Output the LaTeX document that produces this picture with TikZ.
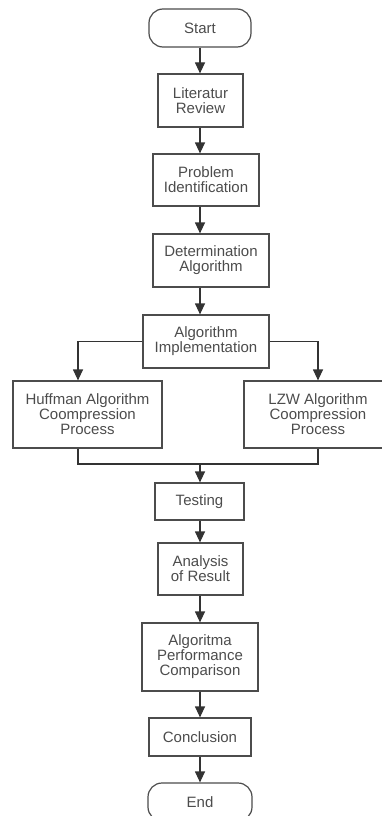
\documentclass[tikz,border=0pt]{standalone}
\usepackage{fontspec}
\setmainfont{Liberation Sans}
\usetikzlibrary{arrows.meta}

\begin{document}
\begin{tikzpicture}[x=1pt,y=-1pt,
  box/.style={draw=black!70, line width=1.2pt, text=black!70, align=center, inner sep=0pt, font=\fontsize{15}{15}\selectfont},
  term/.style={box, rounded corners=14pt},
  line/.style={draw=black!80, line width=1.2pt},
  >={Triangle[length=11pt,width=10pt]}]

\useasboundingbox (0,0) rectangle (382,816);

\node[term, minimum width=102pt, minimum height=38pt] (start) at (200,28) {Start};
\node[box, minimum width=85pt, minimum height=53pt] (lit) at (200.5,100.5) {Literatur\\Review};
\node[box, minimum width=106pt, minimum height=52pt] (prob) at (206,180) {Problem\\Identification};
\node[box, minimum width=116pt, minimum height=53pt] (det) at (211,260.5) {Determination\\Algorithm};
\node[box, minimum width=126pt, minimum height=53pt] (impl) at (206,341.5) {Algorithm\\Implementation};

\node[box, minimum width=149pt, minimum height=67pt] (huff) at (87.5,414.5) {Huffman Algorithm\\Coompression\\Process};
\node[box, minimum width=148pt, minimum height=67pt] (lzw) at (318,414.5) {LZW Algorithm\\Coompression\\Process};

\node[box, minimum width=89pt, minimum height=37pt] (test) at (199.5,501.5) {Testing};
\node[box, minimum width=85pt, minimum height=52pt] (ana) at (200.5,569) {Analysis\\of Result};
\node[box, minimum width=116pt, minimum height=68pt] (comp) at (200,657) {Algoritma\\Performance\\Comparison};
\node[box, minimum width=102pt, minimum height=38pt] (conc) at (200,737) {Conclusion};
\node[term, minimum width=104pt, minimum height=38pt] (end) at (200,802) {End};

% arrow columns
\coordinate (mid) at (200,0);
\coordinate (hx) at (78,0);
\coordinate (lx) at (318,0);
\coordinate (mrg) at (200,464);

\draw[line,->] (mid |- start.south) -- (mid |- lit.north);
\draw[line,->] (mid |- lit.south) -- (mid |- prob.north);
\draw[line,->] (mid |- prob.south) -- (mid |- det.north);
\draw[line,->] (mid |- det.south) -- (mid |- impl.north);

\draw[line,->] (impl.west) -| (hx |- huff.north);
\draw[line,->] (impl.east) -| (lx |- lzw.north);

\draw[line] (hx |- huff.south) |- (mrg);
\draw[line] (lx |- lzw.south) |- (mrg);
\draw[line,->] (mrg) -- (mid |- test.north);

\draw[line,->] (mid |- test.south) -- (mid |- ana.north);
\draw[line,->] (mid |- ana.south) -- (mid |- comp.north);
\draw[line,->] (mid |- comp.south) -- (mid |- conc.north);
\draw[line,->] (mid |- conc.south) -- (mid |- end.north);

\end{tikzpicture}
\end{document}
